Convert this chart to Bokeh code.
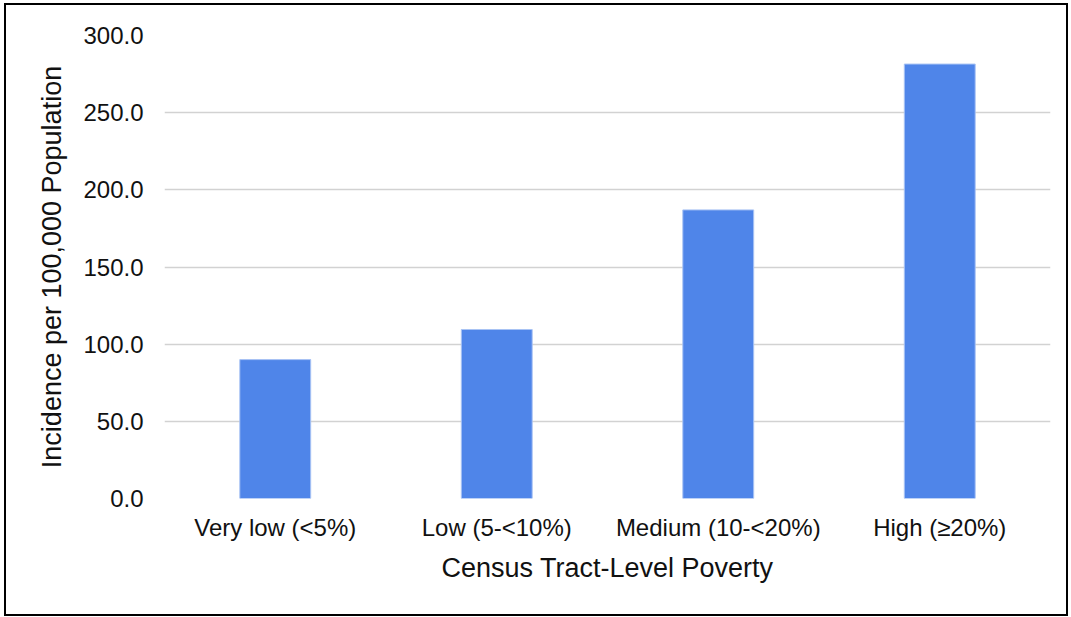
from bokeh.plotting import figure
from bokeh.embed import file_html
from bokeh.resources import INLINE
from bokeh.models import NumeralTickFormatter, Range1d

categories = ["Very low (<5%)", "Low (5-<10%)", "Medium (10-<20%)", "High (\u226520%)"]
incidence = [90.0, 109.5, 187.0, 281.5]
y_ticks = [0, 50, 100, 150, 200, 250, 300]

FONT = "Liberation Sans"

p = figure(
    x_range=categories,
    y_range=Range1d(0, 300),
    width=1064, height=613,
    output_backend="svg", toolbar_location=None,
    min_border_left=158, min_border_right=20, min_border_top=30, min_border_bottom=120,
)
p.styles = {"border": "2px solid black", "margin": "3px 0 0 4px"}

p.vbar(x=categories, top=incidence, width=0.32,
       fill_color="#4F85E9", line_color="#A8C3F4", line_width=1)

p.outline_line_color = None
p.xgrid.grid_line_color = None
p.ygrid.grid_line_color = "#d2d2d2"
p.ygrid.grid_line_width = 1.5
p.yaxis.ticker = y_ticks
p.yaxis.formatter = NumeralTickFormatter(format="0.0")

for ax in (p.xaxis[0], p.yaxis[0]):
    ax.axis_line_color = None
    ax.major_tick_line_color = None
    ax.minor_tick_line_color = None
    ax.major_label_text_font = FONT
    ax.axis_label_text_font = FONT
    ax.major_label_text_color = "#111111"
    ax.axis_label_text_color = "#111111"
    ax.axis_label_text_font_style = "normal"

p.yaxis.major_label_text_font_size = "24px"
p.yaxis.major_label_standoff = 15
p.yaxis.axis_label = "Incidence per 100,000 Population"
p.yaxis.axis_label_text_font_size = "27px"
p.yaxis.axis_label_standoff = 13

p.xaxis.major_label_text_font_size = "24px"
p.xaxis.major_label_standoff = 9
p.xaxis.axis_label = "Census Tract-Level Poverty"
p.xaxis.axis_label_text_font_size = "27px"
p.xaxis.axis_label_standoff = 9

open("out.html", "w").write(file_html(p, INLINE))
